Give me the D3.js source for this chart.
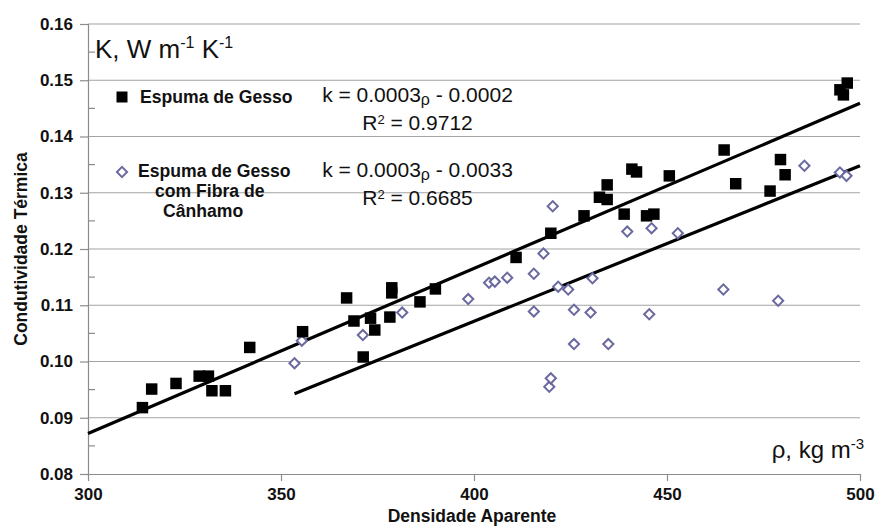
<!DOCTYPE html>
<html>
<head>
<meta charset="utf-8">
<script src="https://cdn.jsdelivr.net/npm/d3@7"></script>
<style>
  html, body { margin: 0; padding: 0; background: #ffffff; }
  svg { display: block; font-family: "Liberation Sans", Arial, sans-serif; }
</style>
</head>
<body>
<svg id="chart" width="878" height="529"></svg>
<script>
// Densidade aparente (kg m-3) e condutividade térmica (W m-1 K-1)
const gessoRho = [314.1, 316.5, 322.8, 328.8, 331.2, 332.1, 335.6, 341.9, 355.6, 367.0,
  368.9, 371.3, 373.2, 374.3, 378.2, 378.7, 378.7, 386.0, 390.0, 410.9,
  419.9, 428.5, 432.5, 434.5, 434.5, 438.9, 440.9, 442.1, 444.7, 446.6,
  450.6, 464.8, 467.8, 476.7, 479.4, 480.6, 494.8, 495.7, 496.7];
const gessoK = [0.0918, 0.0951, 0.0961, 0.0974, 0.0974, 0.0948, 0.0948, 0.1025, 0.1053, 0.1113,
  0.1072, 0.1008, 0.1077, 0.1056, 0.1079, 0.1131, 0.1122, 0.1106, 0.1129, 0.1185,
  0.1228, 0.1259, 0.1292, 0.1314, 0.1288, 0.1262, 0.1342, 0.1337, 0.1259, 0.1262,
  0.1330, 0.1376, 0.1316, 0.1303, 0.1359, 0.1332, 0.1483, 0.1474, 0.1495];

const fibraRho = [353.5, 355.4, 371.2, 381.4, 398.5, 403.9, 405.4, 408.6, 415.5, 415.5,
  418.0, 419.5, 419.9, 420.4, 421.8, 424.4, 425.9, 425.9, 430.2, 430.7,
  434.8, 439.7, 445.4, 446.0, 452.8, 464.6, 478.8, 485.6, 494.8, 496.5];
const fibraK = [0.0997, 0.1037, 0.1047, 0.1087, 0.1111, 0.1140, 0.1142, 0.1149, 0.1156, 0.1089,
  0.1192, 0.0955, 0.0970, 0.1276, 0.1133, 0.1128, 0.1092, 0.1031, 0.1087, 0.1148,
  0.1031, 0.1231, 0.1084, 0.1237, 0.1228, 0.1128, 0.1108, 0.1348, 0.1336, 0.1330];

// Linhas de tendência (inclinação, intercepto)
const trendGesso = [0.0002935, -0.00085];
const trendFibra = [0.0002766, -0.0035];

const xTicks = [300, 350, 400, 450, 500];
const yTicks = [0.08, 0.09, 0.10, 0.11, 0.12, 0.13, 0.14, 0.15, 0.16];
const yMinorTicks = [0.085, 0.095, 0.105, 0.115, 0.125, 0.135, 0.145, 0.155];

const legendLabels = ["Espuma de Gesso", ["Espuma de Gesso", "com Fibra de", "Cânhamo"]];
const equations = [["0.0003", "0.0002", "0.9712"], ["0.0003", "0.0033", "0.6685"]];

const svg = d3.select("#chart");
const x = d3.scaleLinear().domain([300, 500]).range([88, 860]);
const y = d3.scaleLinear().domain([0.08, 0.16]).range([474, 24]);

const gridColor = "#a3a3a3";
const axisColor = "#8c8c8c";
const diamondColor = "#6b6aa0";

// grade horizontal
svg.append("g").selectAll("line").data(yTicks.slice(1)).join("line")
  .attr("x1", x(300)).attr("x2", x(500))
  .attr("y1", d => y(d)).attr("y2", d => y(d))
  .attr("stroke", gridColor).attr("stroke-width", 1.2);

// eixo y
const yAxis = svg.append("g").attr("transform", `translate(${x(300)},0)`)
  .call(d3.axisLeft(y).tickValues(yTicks).tickFormat(d3.format(".2f")).tickSize(8).tickPadding(7));
yAxis.select(".domain").attr("stroke", axisColor).attr("stroke-width", 1.2);
yAxis.selectAll(".tick line").attr("stroke", axisColor).attr("stroke-width", 1.2);
yAxis.selectAll("text").attr("font-size", 17).attr("font-weight", "bold").attr("fill", "#111")
  .attr("font-family", "Liberation Sans, Arial, sans-serif");
svg.append("g").selectAll("line").data(yMinorTicks).join("line")
  .attr("x1", x(300)).attr("x2", x(300) + 7)
  .attr("y1", d => y(d)).attr("y2", d => y(d))
  .attr("stroke", axisColor).attr("stroke-width", 1.2);

// eixo x
const xAxis = svg.append("g").attr("transform", `translate(0,${y(0.08)})`)
  .call(d3.axisBottom(x).tickValues(xTicks).tickFormat(d3.format("d")).tickSize(7).tickSizeOuter(0).tickPadding(7));
xAxis.select(".domain").attr("stroke", axisColor).attr("stroke-width", 1.2);
xAxis.selectAll(".tick line").attr("stroke", axisColor).attr("stroke-width", 1.2);
xAxis.selectAll("text").attr("font-size", 17).attr("font-weight", "bold").attr("fill", "#111")
  .attr("font-family", "Liberation Sans, Arial, sans-serif");

// títulos dos eixos
svg.append("text").attr("x", 472).attr("y", 522).attr("text-anchor", "middle")
  .attr("font-size", 17.5).attr("font-weight", "bold").attr("fill", "#111")
  .text("Densidade Aparente");
svg.append("text").attr("transform", "translate(27,249) rotate(-90)").attr("text-anchor", "middle")
  .attr("font-size", 17.5).attr("font-weight", "bold").attr("fill", "#111")
  .text("Condutividade Térmica");

// unidades
const kLabel = svg.append("text").attr("x", 95).attr("y", 58).attr("font-size", 26).attr("fill", "#111");
kLabel.append("tspan").text("K, W m");
kLabel.append("tspan").attr("dy", -10).attr("font-size", 16).text("-1");
kLabel.append("tspan").attr("dy", 10).text(" K");
kLabel.append("tspan").attr("dy", -10).attr("font-size", 16).text("-1");

const rLabel = svg.append("text").attr("x", 864).attr("y", 458).attr("text-anchor", "end")
  .attr("font-size", 24).attr("fill", "#111");
rLabel.append("tspan").text("ρ, kg m");
rLabel.append("tspan").attr("dy", -9).attr("font-size", 15).text("-3");

// linhas de tendência
const line = d3.line().x(d => x(d[0])).y(d => y(d[1]));
const trendData = [
  { c: trendGesso, from: 300, to: 500 },
  { c: trendFibra, from: d3.min(fibraRho), to: 500 }
];
svg.append("g").selectAll("path").data(trendData).join("path")
  .attr("d", t => line([t.from, t.to].map(r => [r, t.c[0] * r + t.c[1]])))
  .attr("fill", "none").attr("stroke", "#000").attr("stroke-width", 3.2);

// pontos
const square = d3.symbol(d3.symbolSquare, 132);
const diamond = d3.symbol(d3.symbolSquare, 52);

svg.append("g").selectAll("path").data(fibraRho.map((r, i) => [r, fibraK[i]])).join("path")
  .attr("d", diamond)
  .attr("transform", d => `translate(${x(d[0])},${y(d[1])}) rotate(45)`)
  .attr("fill", "#fff").attr("stroke", diamondColor).attr("stroke-width", 2);

svg.append("g").selectAll("path").data(gessoRho.map((r, i) => [r, gessoK[i]])).join("path")
  .attr("d", square)
  .attr("transform", d => `translate(${x(d[0])},${y(d[1])})`)
  .attr("fill", "#000");

// legenda
svg.append("path").attr("d", d3.symbol(d3.symbolSquare, 121))
  .attr("transform", "translate(122,97)").attr("fill", "#000");
svg.append("text").attr("x", 140).attr("y", 103).attr("font-size", 17.6).attr("font-weight", "bold")
  .attr("fill", "#111").text(legendLabels[0]);
svg.append("path").attr("d", diamond)
  .attr("transform", "translate(122,172) rotate(45)")
  .attr("fill", "#fff").attr("stroke", diamondColor).attr("stroke-width", 2);
const legend2 = svg.append("text").attr("font-size", 17.6).attr("font-weight", "bold").attr("fill", "#111");
const l2x = [138, 155, 163], l2y = [177, 197, 217];
legendLabels[1].forEach((s, i) => legend2.append("tspan").attr("x", l2x[i]).attr("y", l2y[i]).text(s));

// equações
const eqY = [[102, 130], [177, 205]];
equations.forEach((e, i) => {
  const t1 = svg.append("text").attr("x", 417.5).attr("y", eqY[i][0]).attr("text-anchor", "middle")
    .attr("font-size", 21).attr("fill", "#111");
  t1.append("tspan").text(`k = ${e[0]}`);
  t1.append("tspan").attr("dy", 3).attr("font-size", 16).text("ρ");
  t1.append("tspan").attr("dy", -3).text(` - ${e[1]}`);
  const t2 = svg.append("text").attr("x", 417.5).attr("y", eqY[i][1]).attr("text-anchor", "middle")
    .attr("font-size", 21).attr("fill", "#111");
  t2.append("tspan").text("R");
  t2.append("tspan").attr("dy", -6).attr("font-size", 13).text("2");
  t2.append("tspan").attr("dy", 6).text(` = ${e[2]}`);
});
</script>
</body>
</html>
